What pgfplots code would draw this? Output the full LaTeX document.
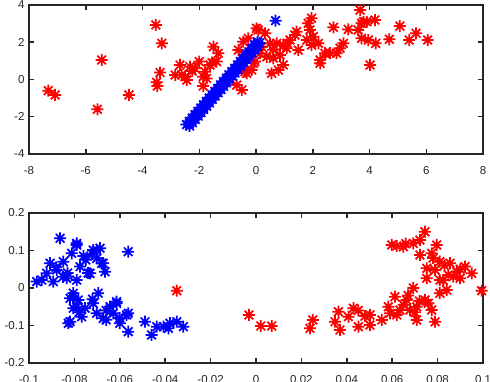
\documentclass[border=0pt]{standalone}
\usepackage{pgfplots}
\pgfplotsset{compat=1.18}
\usepackage{fontspec}
\setmainfont{Liberation Sans}

\definecolor{axgray}{RGB}{38,38,38}

% MATLAB-like eight-armed asterisk
\pgfdeclareplotmark{ast8}{%
  \pgfpathmoveto{\pgfqpoint{-\pgfplotmarksize}{0pt}}%
  \pgfpathlineto{\pgfqpoint{\pgfplotmarksize}{0pt}}%
  \pgfpathmoveto{\pgfqpoint{0pt}{-\pgfplotmarksize}}%
  \pgfpathlineto{\pgfqpoint{0pt}{\pgfplotmarksize}}%
  \pgfpathmoveto{\pgfqpoint{-0.72\pgfplotmarksize}{-0.72\pgfplotmarksize}}%
  \pgfpathlineto{\pgfqpoint{0.72\pgfplotmarksize}{0.72\pgfplotmarksize}}%
  \pgfpathmoveto{\pgfqpoint{-0.72\pgfplotmarksize}{0.72\pgfplotmarksize}}%
  \pgfpathlineto{\pgfqpoint{0.72\pgfplotmarksize}{-0.72\pgfplotmarksize}}%
  \pgfusepathqstroke}

\pgfplotsset{
  mlbox/.style={
    scale only axis,
    width=454pt,
    anchor=south west,
    axis line style={draw=axgray, line width=1.5pt},
    tick style={draw=axgray, line width=1.5pt},
    major tick length=5pt,
    tick align=inside,
    xtick pos=both, ytick pos=both,
    tick label style={font=\fontsize{11.5}{13}\selectfont, text=axgray},
    xticklabel style={yshift=-9pt},
    yticklabel style={xshift=-1pt},
    clip=false,
  },
  redast/.style={only marks, mark=ast8, mark size=6pt, red, line width=1.75pt},
  blueast/.style={only marks, mark=ast8, mark size=6pt, blue, line width=1.75pt},
}

\begin{document}
\begin{tikzpicture}
\begin{axis}[
    mlbox,
    at={(29pt,228pt)},
    height=149pt,
    xmin=-8, xmax=8, ymin=-4, ymax=4,
    xtick={-8,-6,-4,-2,0,2,4,6,8},
    xticklabels={-8,-6,-4,-2,0,2,4,6,8},
    ytick={-4,-2,0,2,4},
    yticklabels={-4,-2,0,2,4},
]
\addplot[redast] coordinates {
(-7.32,-0.60) (-7.08,-0.83) (-5.44,1.05) (-5.59,-1.60) (-4.48,-0.83)
(-3.53,2.93) (-3.32,1.94) (-3.38,0.37) (-3.48,-0.35) (-3.50,-0.15)
(-2.85,0.24) (-2.68,0.78) (-2.50,0.15) (-2.33,0.69) (-2.15,0.60)
(-2.00,0.96) (-2.44,-0.03) (-2.62,0.25) (-2.25,0.45) (-1.80,0.42)
(-1.74,0.06) (-1.86,-0.35) (-1.86,0.15) (-1.62,0.78) (-1.50,1.76)
(-1.33,1.41) (-1.39,0.96) (-1.55,0.90) (-0.68,-0.30) (-0.50,-0.56)
(-0.62,1.58) (-0.45,2.03) (-0.27,2.21) (0.02,2.75) (-0.04,0.96)
(-0.15,0.51) (-0.33,0.33) (0.08,2.66) (0.32,2.48) (0.49,1.94)
(0.73,1.94) (0.96,1.85) (1.20,2.12) (1.37,2.39) (1.43,2.57)
(1.49,1.58) (1.08,1.68) (0.14,1.41) (0.38,1.22) (0.61,1.14)
(0.85,1.32) (0.96,0.78) (0.79,0.51) (0.55,0.33) (-0.09,0.87)
(-0.39,0.42) (0.20,1.75) (0.60,1.60) (1.10,1.95) (1.84,3.02)
(1.96,3.29) (1.90,2.66) (1.79,2.12) (2.02,2.30) (1.96,1.85)
(2.20,1.94) (2.26,1.05) (2.26,0.87) (2.43,1.41) (2.61,1.41)
(2.84,1.41) (2.96,1.68) (3.08,1.94) (2.73,2.80) (3.25,2.69)
(3.67,3.73) (3.60,2.66) (3.79,3.10) (3.96,2.12) (4.02,0.78)
(3.90,3.10) (4.19,3.19) (5.07,2.87) (5.64,2.48) (4.70,2.16)
(4.22,1.94) (5.40,2.12) (6.05,2.12) (3.72,2.21) (3.72,3.02)
};
\addplot[blueast] coordinates {
(-2.45,-2.42) (-2.34,-2.49) (-2.35,-2.25) (-2.24,-2.32)
(-2.25,-2.07) (-2.14,-2.14) (-2.15,-1.89) (-2.04,-1.96)
(-2.05,-1.71) (-1.94,-1.78) (-1.95,-1.53) (-1.84,-1.60)
(-1.85,-1.36) (-1.74,-1.43) (-1.75,-1.18) (-1.64,-1.25)
(-1.65,-1.00) (-1.54,-1.07) (-1.55,-0.82) (-1.44,-0.89)
(-1.45,-0.64) (-1.34,-0.71) (-1.35,-0.47) (-1.24,-0.54)
(-1.25,-0.29) (-1.14,-0.36) (-1.15,-0.11) (-1.04,-0.18)
(-1.05,0.07) (-0.94,0.00) (-0.95,0.25) (-0.84,0.18)
(-0.85,0.42) (-0.74,0.35) (-0.75,0.60) (-0.64,0.53)
(-0.65,0.78) (-0.54,0.71) (-0.55,0.96) (-0.44,0.89)
(-0.45,1.14) (-0.34,1.07) (-0.35,1.31) (-0.24,1.24)
(-0.25,1.49) (-0.14,1.42) (-0.15,1.67) (-0.04,1.60)
(-0.05,1.85) (0.06,1.78) (0.05,2.02) (0.12,1.96)
(-2.35,-2.375) (-2.25,-2.197) (-2.15,-2.019) (-2.05,-1.841)
(-1.95,-1.663) (-1.85,-1.485) (-1.75,-1.307) (-1.65,-1.129)
(-1.55,-0.951) (-1.45,-0.773) (-1.35,-0.595) (-1.25,-0.417)
(-1.15,-0.239) (-1.05,-0.061) (-0.95,0.117) (-0.85,0.295)
(-0.75,0.473) (-0.65,0.651) (-0.55,0.829) (-0.45,1.007)
(-0.35,1.185) (-0.25,1.363) (-0.15,1.541) (-0.05,1.719)
(0.05,1.897)
(0.69,3.16)
};
\end{axis}

\begin{axis}[
    mlbox,
    at={(29pt,19pt)},
    height=150pt,
    xmin=-0.1, xmax=0.1, ymin=-0.2, ymax=0.2,
    xtick={-0.1,-0.08,-0.06,-0.04,-0.02,0,0.02,0.04,0.06,0.08,0.1},
    xticklabels={-0.1,-0.08,-0.06,-0.04,-0.02,0,0.02,0.04,0.06,0.08,0.1},
    ytick={-0.2,-0.1,0,0.1,0.2},
    yticklabels={-0.2,-0.1,0,0.1,0.2},
]
\addplot[blueast] coordinates {
(-0.0863,0.1325) (-0.0563,0.0968) (-0.0790,0.1190) (-0.0812,0.0925)
(-0.0717,0.1010) (-0.0687,0.1060) (-0.0702,0.0790) (-0.0673,0.0660)
(-0.0665,0.0435) (-0.0731,0.0390) (-0.0775,0.0570) (-0.0849,0.0700)
(-0.0878,0.0480) (-0.0922,0.0390) (-0.0944,0.0213) (-0.0966,0.0170)
(-0.0893,0.0170) (-0.0834,0.0260) (-0.0790,0.0210) (-0.0805,-0.0140)
(-0.0819,-0.0275) (-0.0783,-0.0320) (-0.0805,-0.0540) (-0.0768,-0.0765)
(-0.0827,-0.0940) (-0.0753,-0.0540) (-0.0695,-0.0140) (-0.0717,-0.0410)
(-0.0702,-0.0675) (-0.0673,-0.0810) (-0.0643,-0.0500) (-0.0614,-0.0365)
(-0.0629,-0.0675) (-0.0600,-0.0940) (-0.0563,-0.0675) (-0.0563,-0.1165)
(-0.0489,-0.0900) (-0.0460,-0.1253) (-0.0437,-0.1032) (-0.0408,-0.1032)
(-0.0379,-0.0940) (-0.0349,-0.0900) (-0.0320,-0.1032) (-0.0386,-0.1075)
(-0.0907,0.0660) (-0.0790,0.1147) (-0.0702,0.1010) (-0.0680,0.0660)
(-0.0805,-0.0230) (-0.0819,-0.0900) (-0.0614,-0.0410) (-0.0570,-0.0720)
(-0.0760,0.0850) (-0.0740,0.0400) (-0.0660,-0.0850)
(-0.0830,0.0400) (-0.0850,0.0300) (-0.0720,0.0900) (-0.0750,0.0750)
(-0.0790,-0.0500) (-0.0780,-0.0650) (-0.0660,-0.0600) (-0.0600,-0.0800)
(-0.0720,-0.0300) (-0.0880,0.0550)
};
\addplot[redast] coordinates {
(-0.0349,-0.0072) (-0.0031,-0.0720) (0.0021,-0.1013) (0.0069,-0.1013)
(0.0238,-0.1075) (0.0250,-0.0853) (0.0348,-0.0900) (0.0370,-0.1120)
(0.0363,-0.0632) (0.0429,-0.0540) (0.0451,-0.1032) (0.0502,-0.0720)
(0.0502,-0.0987) (0.0554,-0.0853) (0.0583,-0.0500) (0.0612,-0.0232)
(0.0620,-0.0720) (0.0664,-0.0320) (0.0678,-0.0587) (0.0708,-0.0853)
(0.0693,0.0000) (0.0752,0.0260) (0.0744,-0.0320) (0.0774,-0.0587)
(0.0789,-0.0900) (0.0810,-0.0140) (0.0840,-0.0053) (0.0825,0.0210)
(0.0869,0.0300) (0.0884,0.0435) (0.0921,0.0570) (0.0950,0.0390)
(0.0994,-0.0072) (0.0744,0.1500) (0.0598,0.1147) (0.0649,0.1100)
(0.0693,0.1190) (0.0722,0.1280) (0.0796,0.1147) (0.0722,0.0880)
(0.0774,0.0925) (0.0810,0.0700) (0.0855,0.0660) (0.0789,0.0480)
(0.0810,0.0210) (0.0752,0.0525) (0.0634,-0.0587) (0.0590,-0.0675)
(0.0708,-0.0500) (0.0759,-0.0410) (0.0407,-0.0765) (0.0899,0.0260)
(0.0847,0.0347)
(0.0650,-0.0450) (0.0700,-0.0650) (0.0720,-0.0350) (0.0670,-0.0200)
(0.0780,0.0800) (0.0830,0.0600) (0.0900,0.0500) (0.0450,-0.0600)
(0.0480,-0.0750) (0.0660,0.1180) (0.0620,0.1120)
};
\end{axis}
\pgfresetboundingbox
\useasboundingbox (0,0) rectangle (490pt,382pt);
\end{tikzpicture}
\end{document}
